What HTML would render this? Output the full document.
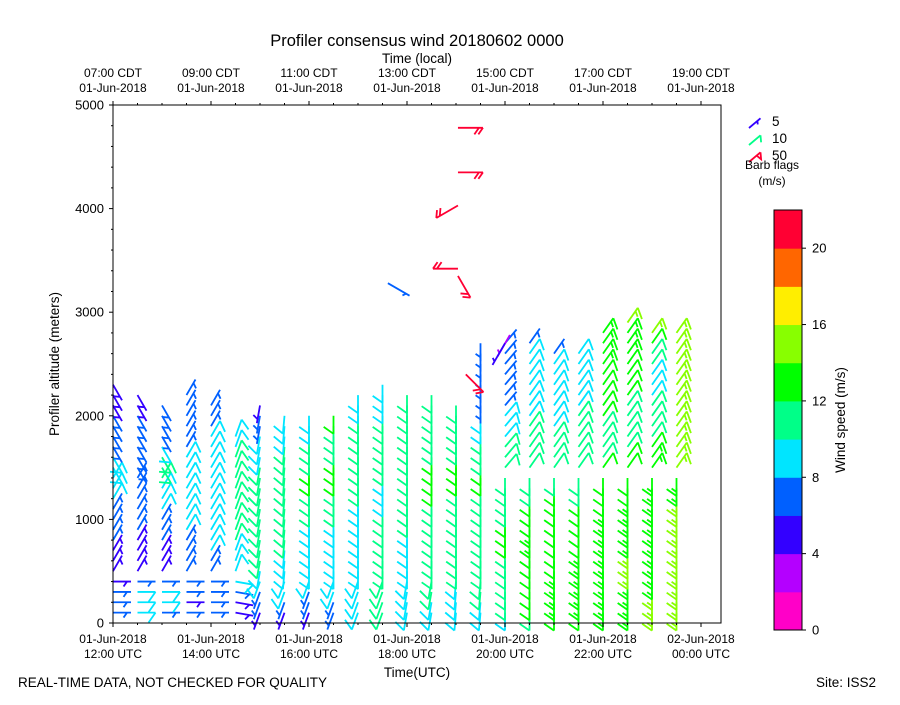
<!DOCTYPE html>
<html><head><meta charset="utf-8"><style>
html,body{margin:0;padding:0;background:#fff;}
svg text{font-family:"Liberation Sans","DejaVu Sans",sans-serif;fill:#000;}
</style></head><body>
<svg id="chart" width="900" height="700" viewBox="0 0 900 700" xmlns="http://www.w3.org/2000/svg">
<rect width="900" height="700" fill="#fff"/>
<text x="417" y="46" font-size="16.5" text-anchor="middle">Profiler consensus wind 20180602 0000</text>
<text x="417" y="63" font-size="13.5" text-anchor="middle">Time (local)</text>
<text x="417" y="677" font-size="13.5" text-anchor="middle">Time(UTC)</text>
<text x="59" y="364" font-size="13.5" text-anchor="middle" transform="rotate(-90 59 364)">Profiler altitude (meters)</text>
<text x="18" y="687" font-size="13.5">REAL-TIME DATA, NOT CHECKED FOR QUALITY</text>
<text x="816" y="687" font-size="13.5">Site: ISS2</text>
<g id="barbs"></g>
<g id="axes"></g>
<g id="legend"></g>
<g id="cbar"></g>
</svg>
<script>
// ---- data ----
const colTimes = [0,0.5,1,1.5,2,2.5,3,3.5,4,4.5,5,5.5,6,6.5,7,7.5,8,8.5,9,9.5,10,10.5,11,11.5]; // hours after 12 UTC
const colSpeeds = [
 [6,7,7,5,5,5,5,6,6,7,7,8,8,8,8,8,7,6,6,6,5,5,5],
 [8,9,9,6,5,5,5,5,6,6,6,7,7,7,7,7,6,6,6,6,5,5],
 [7,8,8,6,5,5,5,6,6,7,8,9,9,10,10,10,9,7,6,6,6],
 [6,5,6,6,6,7,7,7,8,9,9,9,9,9,8,8,7,7,6,7,6,6],
 [6,6,6,7,7,7,8,8,9,9,9,9,9,9,9,9,8,8,7,7,6],
 [5,5,6,8,8,9,9,10,10,10,11,11,11,11,10,10,9,9],
 [5,6,7,8,9,10,10,10,11,11,11,11,11,10,10,9,9,8,6,6,5],
 [4,6,8,9,9,9,9,10,10,10,10,10,10,10,10,10,10,9,8,9],
 [5,6,7,8,8,9,9,9,9,9,10,11,11,12,12,11,10,10,9,9],
 [6,7,9,9,9,9,9,9,9,9,10,10,11,12,12,12,11,11,10,12],
 [8,9,9,9,9,9,9,9,9,9,9,9,10,10,10,10,10,10,10,10,8,8],
 [10,11,11,11,11,10,10,10,10,10,10,9,9,9,10,10,10,10,10,10,9,9,9],
 [9,8,8,8,9,9,9,9,9,10,10,10,10,11,11,11,11,11,11,10,10,10],
 [9,9,10,10,10,11,11,11,11,11,11,11,12,12,12,12,11,11,10,10,10,11],
 [9,9,9,9,10,10,10,11,11,11,11,11,11,12,12,12,11,11,11,10,10],
 [9,9,10,10,11,11,11,11,11,11,11,11,11,12,12,11,10,10,9,8,7,7,7,6,6,6,6],
 [9,10,10,11,11,11,11,12,12,12,11,11,11,11,11,10,10,9,8,8,7,7,7,7,7,6,6],
 [11,12,12,12,12,12,12,13,13,12,12,12,11,11,11,11,11,10,10,9,9,8,8,8,8,8,7],
 [12,13,13,13,13,12,12,12,12,12,12,12,12,11,11,11,10,10,9,9,9,8,8,8,8,7],
 [12,13,13,13,13,13,13,12,12,12,12,12,11,11,11,11,11,11,10,10,9,9,9,9,8,8],
 [13,13,13,13,13,13,13,13,13,13,13,12,12,12,12,11,11,11,11,12,12,12,12,12,13,13,13,13],
 [13,13,13,13,14,14,14,13,13,13,13,13,12,12,12,12,11,11,10,11,11,12,12,12,12,13,13,13,14],
 [14,14,14,13,13,13,13,13,13,13,13,13,13,13,13,13,12,11,11,10,10,9,9,9,10,10,12,15],
 [15,15,15,15,15,15,14,14,14,14,14,14,13,13,14,14,14,14,14,15,15,14,14,14,15,15,15,15]
];
const lowDirs = [90,90,90,90,90,100,200,200,200,200,200,200,190,190,185,185,180,180,180,180,180,180,180,180]; // staff bearing below 500 m
const midDirs = [30,30,30,30,30,20,190,185,180,180,180,180,180,180,180,180,180,180,180,180,180,180,180,180]; // 500-1500 m
const upDirs  = [150,150,150,30,30,20,190,185,180,180,180,180,180,180,180,180,40,35,35,35,35,35,35,35]; // above 1500 m
const extraT   = [7.04,7.04,7.04,7.04,7.04,5.61,8.1,8.0,7.2];
const extraH   = [4780,4350,3420,4030,3350,3280,2780,2700,2400];
const extraSpd = [22,22,21,21,21,6,3,4,21];
const extraDir = [90,90,270,240,150,120,210,210,135];
const cbTicks = [0,4,8,12,16,20];
const cbColors = ["#ff00c8","#b400ff","#3300ff","#0060ff","#00e5ff","#00ff88","#00ff00","#88ff00","#ffee00","#ff6600","#ff0033"];
// ---- axes functions ----
const X0=113, Y0=623, PX_H=49, PY=518/5000;
const xs = t => X0 + t*PX_H;
const ys = h => Y0 - h*PY;
const colorOf = s => cbColors[Math.max(0,Math.min(10,Math.floor(s/2)))];
const NS="http://www.w3.org/2000/svg";
function mk(tag, attrs, parent){const e=document.createElementNS(NS,tag);for(const k in attrs)e.setAttribute(k,attrs[k]);parent.appendChild(e);return e;}
function drawBarb(parent, x, y, spd, bearing, col, L, F){
  const a = bearing*Math.PI/180;
  const sx=Math.sin(a), sy=-Math.cos(a);
  const r=125*Math.PI/180;
  const fx=sx*Math.cos(r)-sy*Math.sin(r), fy=sx*Math.sin(r)+sy*Math.cos(r);
  let d=`M${x},${y}L${x+sx*L},${y+sy*L}`;
  let n=Math.round(spd/5)*5, pos=L;
  while(n>=50){const bx=x+sx*pos,by=y+sy*pos;const b2x=x+sx*(pos-5),b2y=y+sy*(pos-5);d+=`M${bx},${by}L${bx+fx*F},${by+fy*F}L${b2x},${b2y}`;n-=50;pos-=7;}
  while(n>=10){const bx=x+sx*pos,by=y+sy*pos;d+=`M${bx},${by}L${bx+fx*F},${by+fy*F}`;n-=10;pos-=4;}
  if(n>=5){if(pos===L)pos-=4;const bx=x+sx*pos,by=y+sy*pos;d+=`M${bx},${by}L${bx+fx*F/2},${by+fy*F/2}`;}
  return mk('path',{d:d,stroke:col,'stroke-width':1.8,fill:'none'},parent);
}
// ---- barbs ----
const bg=document.getElementById('barbs');
colTimes.forEach((t,k)=>{
  colSpeeds[k].forEach((s,i)=>{
    const h=100+i*100;
    const dir = h<500?lowDirs[k]:(h<1500?midDirs[k]:upDirs[k]);
    const p=drawBarb(bg, xs(t), ys(h), s, dir, colorOf(s), 18, 12);
    
    
  });
});
extraT.forEach((t,i)=>{
  const p=drawBarb(bg, xs(t), ys(extraH[i]), extraSpd[i], extraDir[i], colorOf(extraSpd[i]), 25, 8);
  
  
});
// ---- axes ----
const ax=document.getElementById('axes');
mk('rect',{x:113,y:105,width:608,height:518,fill:'none',stroke:'#000','stroke-width':1},ax);
for(let h=0;h<=5000;h+=200){
  const y=ys(h), major=h%1000===0;
  mk('line',{x1:113,x2:113-(major?4:2),y1:y,y2:y,stroke:'#000'},ax);
  if(major){const t=mk('text',{x:104,y:y+4.5,'font-size':13,'text-anchor':'end'},ax);t.textContent=h;
    
    }
}
const utcDates=["01-Jun-2018","01-Jun-2018","01-Jun-2018","01-Jun-2018","01-Jun-2018","01-Jun-2018","02-Jun-2018"];
const utcTimes=["12:00 UTC","14:00 UTC","16:00 UTC","18:00 UTC","20:00 UTC","22:00 UTC","00:00 UTC"];
const cdtTimes=["07:00 CDT","09:00 CDT","11:00 CDT","13:00 CDT","15:00 CDT","17:00 CDT","19:00 CDT"];
for(let t=0;t<=12.3;t+=0.5){
  const x=xs(t), major=Math.abs(t%2)<1e-6;
  mk('line',{x1:x,x2:x,y1:623,y2:623+(major?4:2),stroke:'#000'},ax);
  mk('line',{x1:x,x2:x,y1:105,y2:105-(major?4:2),stroke:'#000'},ax);
  if(major){const i=t/2;
    const a=mk('text',{x:x,y:643,'font-size':12,'text-anchor':'middle'},ax);a.textContent=utcDates[i];
    
    
    const b=mk('text',{x:x,y:658,'font-size':12,'text-anchor':'middle'},ax);b.textContent=utcTimes[i];
    
    
    const c=mk('text',{x:x,y:77,'font-size':12,'text-anchor':'middle'},ax);c.textContent=cdtTimes[i];
    
    
    const d=mk('text',{x:x,y:92,'font-size':12,'text-anchor':'middle'},ax);d.textContent="01-Jun-2018";
    
    }
}
// ---- legend ----
const lg=document.getElementById('legend');
const legSpd=[5,10,50], legCol=["#3300ff","#00ff88","#ff0033"], legY=[128,145,162];
legSpd.forEach((s,i)=>{
  const p=drawBarb(lg,749,legY[i],s,50,legCol[i],15,7);
  
  
  const t=mk('text',{x:772,y:legY[i]-2,'font-size':13.5},lg);t.textContent=s;
  
  
});
const lt=mk('text',{x:772,y:169,'font-size':12,'text-anchor':'middle'},lg);lt.textContent="Barb flags";


const lt2=mk('text',{x:772,y:185,'font-size':12,'text-anchor':'middle'},lg);lt2.textContent="(m/s)";


// ---- colorbar ----
const cb=document.getElementById('cbar');
const CB_T=210, CB_B=630, CB_X=774, CB_W=28;
const cy = v => CB_B - v*(CB_B-CB_T)/22;
cbColors.forEach((c,i)=>{
  const r=mk('rect',{x:CB_X,y:cy(i*2+2),width:CB_W,height:cy(i*2)-cy(i*2+2)+0.5,fill:c},cb);
  
  
});
mk('rect',{x:CB_X,y:CB_T,width:CB_W,height:CB_B-CB_T,fill:'none',stroke:'#000'},cb);
cbTicks.forEach(v=>{
  mk('line',{x1:CB_X+CB_W,x2:CB_X+CB_W+4,y1:cy(v),y2:cy(v),stroke:'#000'},cb);
  const t=mk('text',{x:812,y:cy(v)+4.5,'font-size':13},cb);t.textContent=v;
  
  
});
const ct=mk('text',{x:845,y:420,'font-size':13.5,'text-anchor':'middle',transform:'rotate(-90 845 420)'},cb);ct.textContent="Wind speed (m/s)";


</script>
</body></html>
